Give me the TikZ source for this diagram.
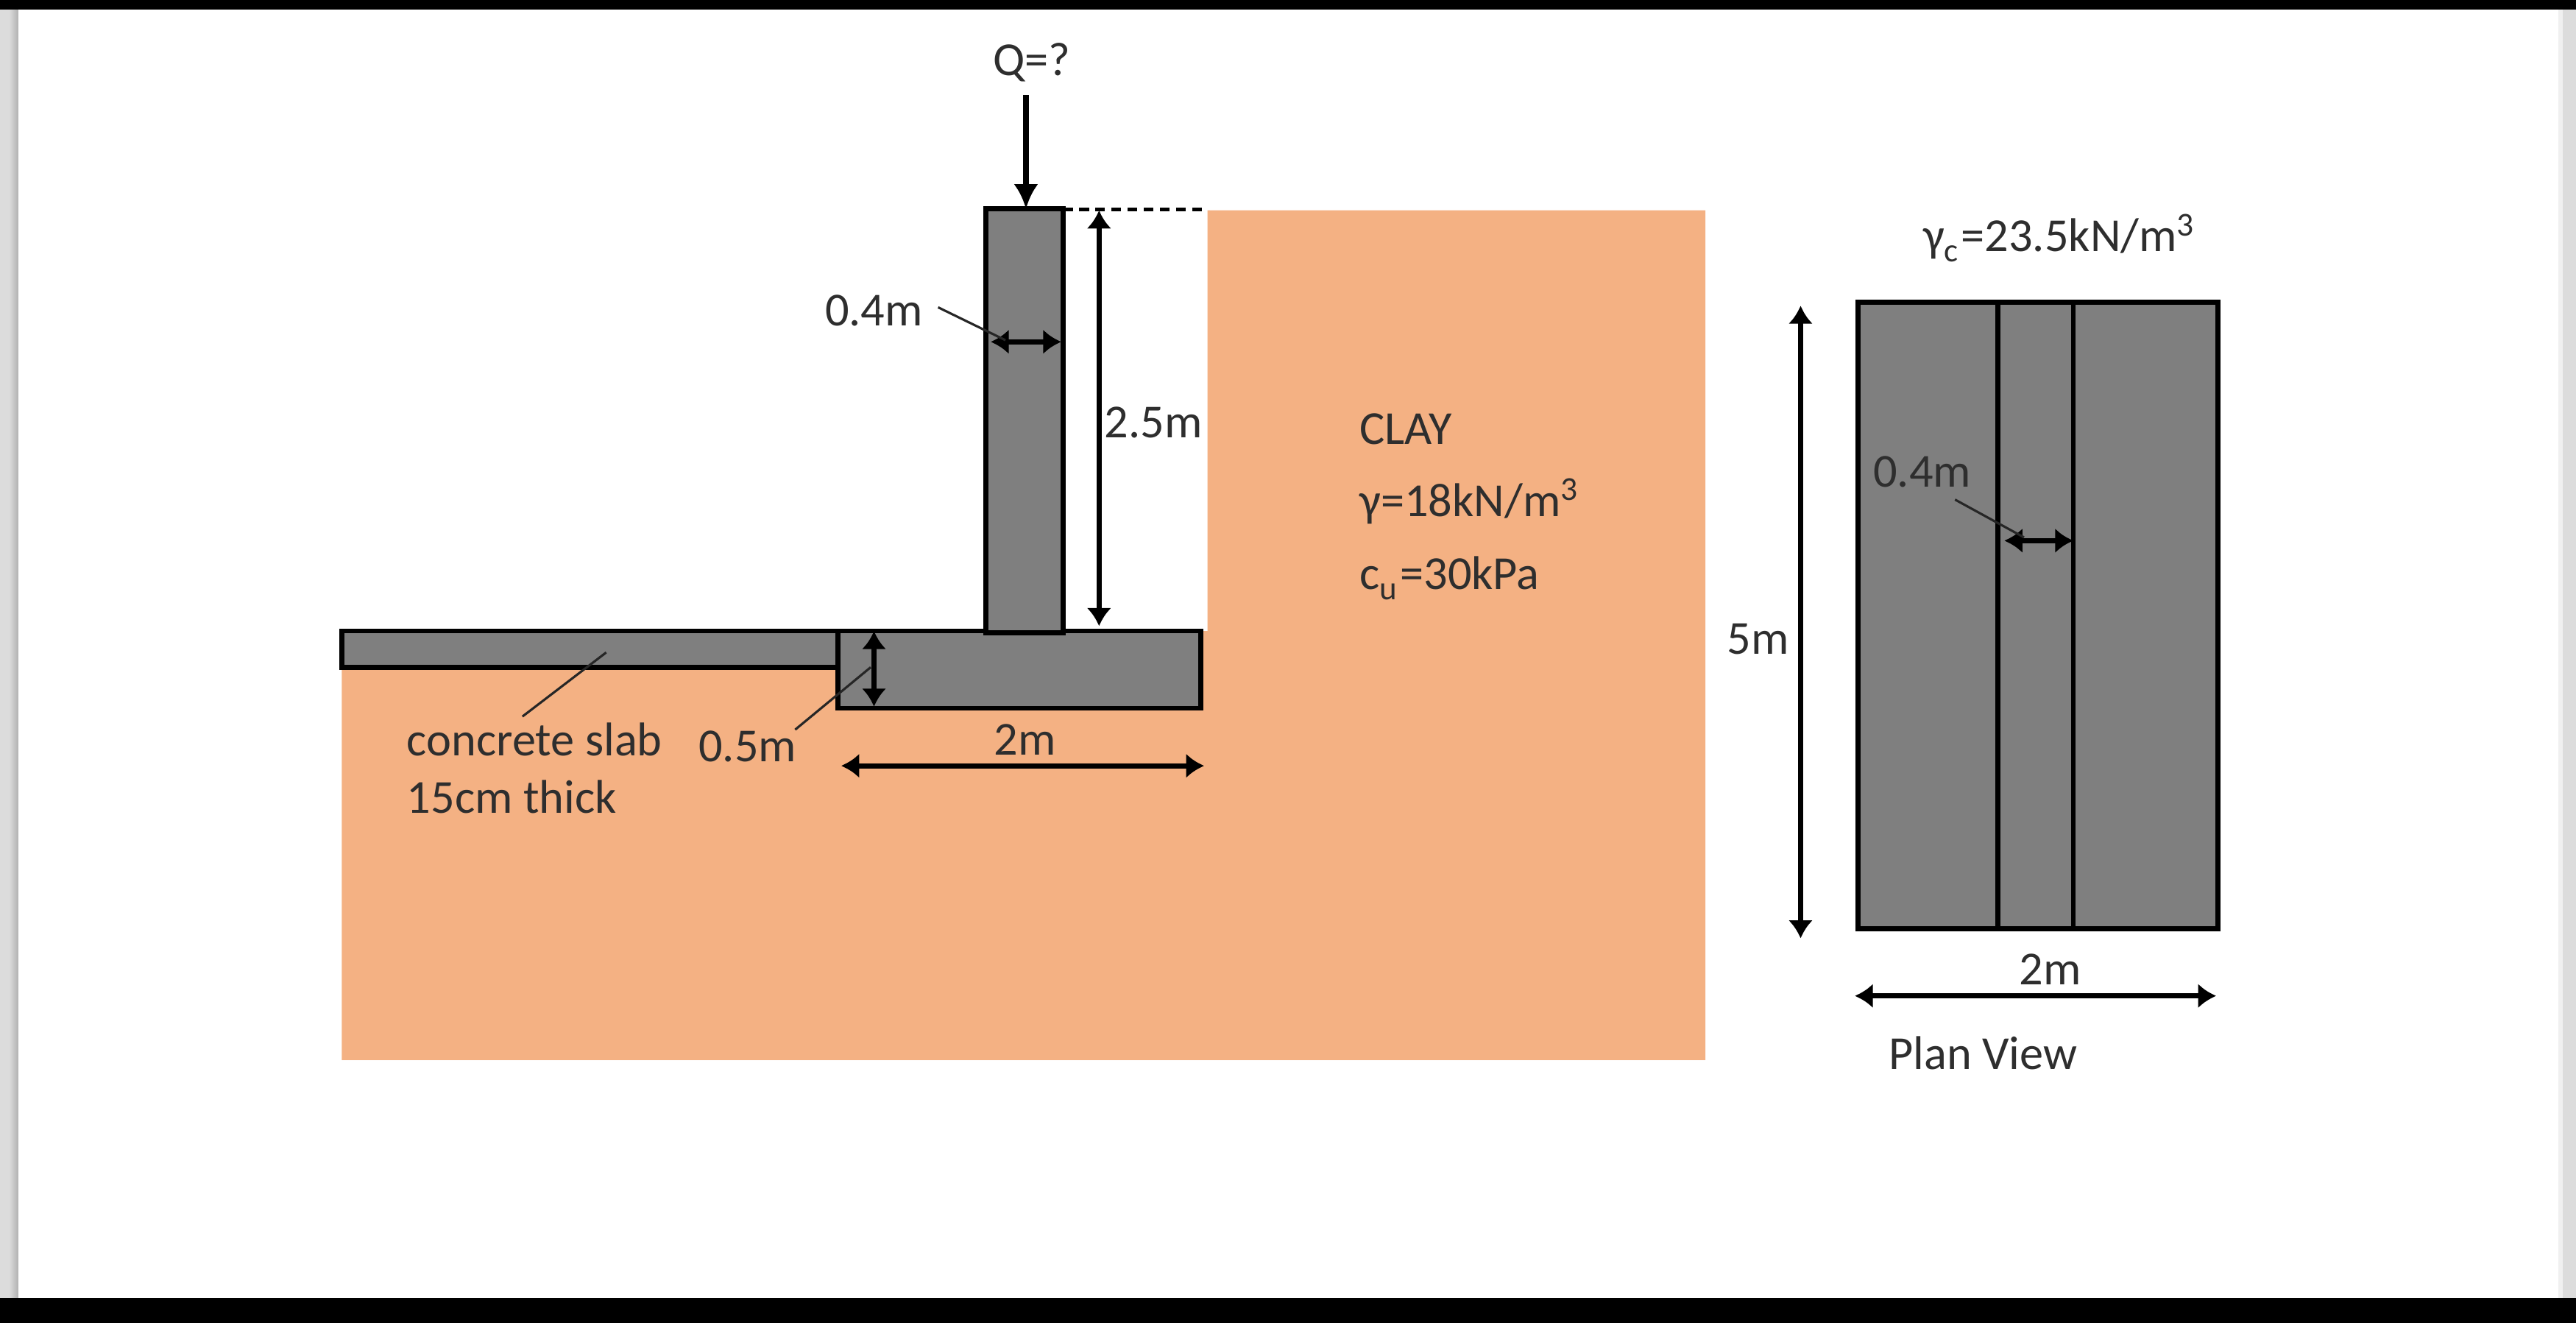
\documentclass[tikz,border=0pt]{standalone}
\usepackage{fontspec}
\setmainfont{Carlito}
\usetikzlibrary{arrows.meta}
\definecolor{clay}{RGB}{244,177,131}
\definecolor{concrete}{RGB}{127,127,127}
\definecolor{frameside}{RGB}{220,220,220}
\newcommand{\drawmember}{\draw[fill=concrete,line width=.85pt]}
\newcommand{\drawdim}{\draw[line width=.85pt,{Latex[length=1.1mm,width=1.5mm]}-{Latex[length=1.1mm,width=1.5mm]}]}
\newcommand{\drawleader}{\draw[line width=.4pt,black!85]}
\newcommand{\lowsub}[1]{\raisebox{-.8pt}{\textsubscript{#1}}}
\newcommand{\cubed}{\raisebox{2.7pt}{\fontsize{5.8}{6}\selectfont 3}}
\tikzset{lbl/.style={inner sep=0pt,font=\fontsize{8.2}{10}\selectfont,text=black!82}}
\begin{document}
\begin{tikzpicture}[x=1cm,y=-1cm]
\useasboundingbox (0,0) rectangle (15.68,8.05);
\fill[white] (0,0) rectangle (15.68,8.05);
\shade[left color=frameside,right color=black!30,middle color=frameside] (0,0) rectangle (.11,8.05);
\fill[black!6] (15.57,0) rectangle (15.60,8.05);
\fill[frameside] (15.60,0) rectangle (15.68,8.05);
\fill[black] (0,0) rectangle (15.68,.056);
\fill[black] (0,7.9) rectangle (15.68,8.05);
% ground
\fill[clay] (7.35,1.28)--(10.38,1.28)--(10.38,6.45)--(2.08,6.45)--(2.08,3.95)--(7.31,3.95)--(7.31,3.84)--(7.35,3.84)--cycle;
% section
\drawmember (2.08,3.84) rectangle (5.10,4.06);
\drawmember (5.10,3.84) rectangle (7.31,4.31);
\drawmember (6.00,1.27) rectangle (6.47,3.85);
\draw[dash pattern=on 1.7pt off 1.1pt,line width=.6pt] (6.47,1.275)--(7.35,1.275);
% plan
\drawmember (11.31,1.84) rectangle (13.50,5.65);
\drawmember (12.16,1.84) rectangle (12.62,5.65);
% end points
\coordinate (qtop) at (6.245,.58);
\coordinate (qend) at (6.245,1.27);
\coordinate (hcoltop) at (6.69,1.28);
\coordinate (hcolbot) at (6.69,3.81);
\coordinate (wcolL) at (6.03,2.08);
\coordinate (wcolR) at (6.46,2.08);
\coordinate (tfootT) at (5.32,3.84);
\coordinate (tfootB) at (5.32,4.30);
\coordinate (wfootL) at (5.12,4.66);
\coordinate (wfootR) at (7.33,4.66);
\coordinate (lplanT) at (10.96,1.86);
\coordinate (lplanB) at (10.96,5.71);
\coordinate (wplanL) at (11.29,6.06);
\coordinate (wplanR) at (13.49,6.06);
\coordinate (wstemL) at (12.20,3.29);
\coordinate (wstemR) at (12.62,3.29);
\coordinate (slabtip) at (3.69,3.97);
\coordinate (footip) at (5.30,4.06);
\coordinate (colltip) at (6.12,2.07);
\coordinate (plantip) at (12.32,3.27);
% labels
\node[lbl] (qlabel) at (6.28,.38) {Q=?};
\node[lbl] (colwidth) at (5.32,1.89) {0.4m};
\node[lbl] (colheight) at (7.02,2.57) {2.5m};
\node[lbl,anchor=west] (clayname) at (8.27,2.61) {CLAY};
\node[lbl,anchor=west] (claygamma) at (8.27,3.05) {γ=18kN/m\cubed};
\node[lbl,anchor=west] (claycu) at (8.27,3.52) {c\lowsub{u}=30kPa};
\node[lbl,anchor=west] (slabname) at (2.47,4.50) {concrete slab};
\node[lbl,anchor=west] (slabthick) at (2.47,4.85) {15cm thick};
\node[lbl] (footthick) at (4.55,4.54) {0.5m};
\node[lbl] (footwidth) at (6.24,4.50) {2m};
\node[lbl] (concgamma) at (12.53,1.45) {γ\lowsub{c}=23.5kN/m\cubed};
\node[lbl] (planlength) at (10.70,3.89) {5m};
\node[lbl] (stemwidth) at (11.70,2.87) {0.4m};
\node[lbl] (planwidth) at (12.48,5.90) {2m};
\node[lbl,anchor=west] (planname) at (11.49,6.41) {Plan View};
% dimensions
\draw[line width=1pt,-{Latex[length=1.5mm,width=1.5mm]}] (qtop)--(qend);
\drawdim (hcoltop)--(hcolbot);
\drawdim (wcolL)--(wcolR);
\drawdim (tfootT)--(tfootB);
\drawdim (wfootL)--(wfootR);
\drawdim (lplanT)--(lplanB);
\drawdim (wplanL)--(wplanR);
\drawdim (wstemL)--(wstemR);
% leaders
\drawleader (3.18,4.36)--(slabtip);
\drawleader (4.84,4.44)--(footip);
\drawleader (5.71,1.87)--(colltip);
\drawleader (11.90,3.04)--(plantip);
\end{tikzpicture}
\end{document}
